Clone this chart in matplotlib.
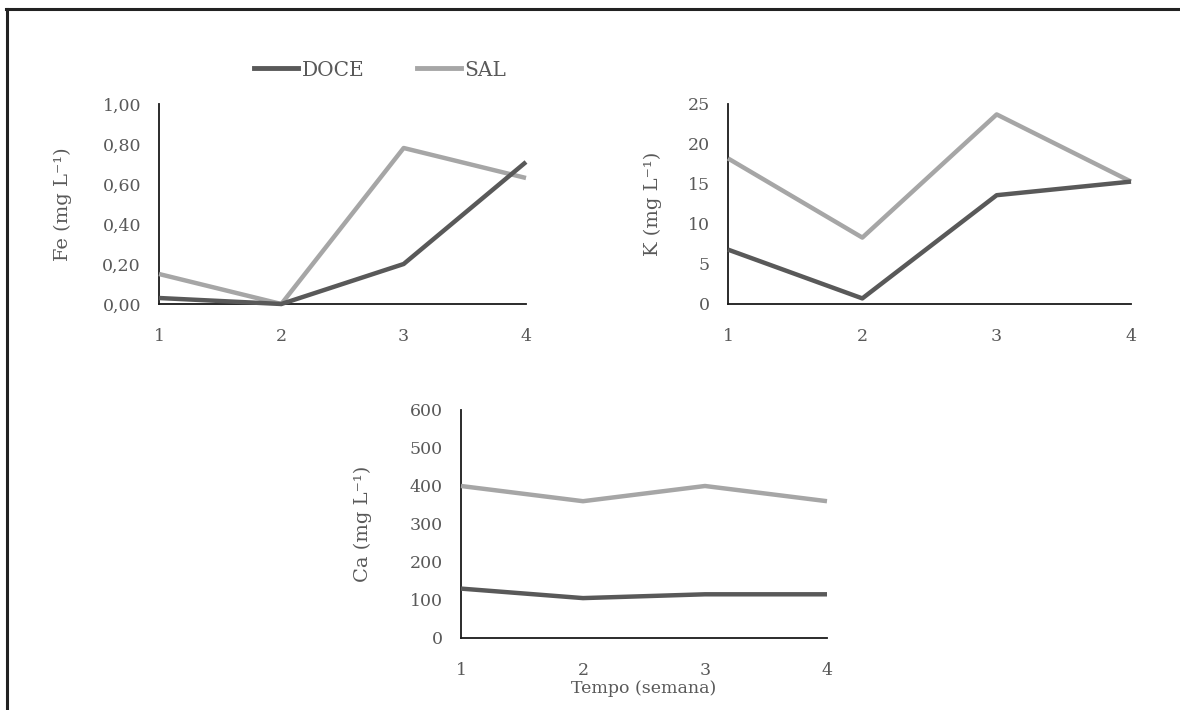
import matplotlib
matplotlib.use("Agg")
import matplotlib.pyplot as plt
from matplotlib.lines import Line2D
from matplotlib.ticker import FuncFormatter

plt.rcParams['font.family'] = ['DejaVu Serif']

weeks = [1, 2, 3, 4]
series_names = ["DOCE", "SAL"]

fe_doce = [0.03, 0.0, 0.20, 0.71]
fe_sal = [0.15, 0.0, 0.78, 0.63]
k_doce = [6.8, 0.7, 13.6, 15.3]
k_sal = [18.2, 8.3, 23.7, 15.3]
ca_doce = [130, 105, 115, 115]
ca_sal = [400, 360, 400, 360]

fe_ticks = [0.0, 0.2, 0.4, 0.6, 0.8, 1.0]
k_ticks = [0, 5, 10, 15, 20, 25]
ca_ticks = [0, 100, 200, 300, 400, 500, 600]

c_doce = "#595959"
c_sal = "#A6A6A6"
txt = "#595959"

W, H = 1180, 710
fig = plt.figure(figsize=(W / 100, H / 100), dpi=100)


def px_axes(l, r, t, b):
    return fig.add_axes([l / W, 1 - b / H, (r - l) / W, (b - t) / H])


def style(ax, ticks, ylabel, fmt=None):
    ax.set_xlim(1, 4)
    ax.set_ylim(ticks[0], ticks[-1])
    ax.set_xticks(weeks)
    ax.set_yticks(ticks)
    if fmt:
        ax.yaxis.set_major_formatter(FuncFormatter(fmt))
    for s in ["top", "right"]:
        ax.spines[s].set_visible(False)
    for s in ["left", "bottom"]:
        ax.spines[s].set_color("#1a1a1a")
        ax.spines[s].set_linewidth(1.3)
        ax.spines[s].set_zorder(1)
    ax.tick_params(length=0, labelsize=12.5, colors=txt)
    ax.tick_params(axis="x", pad=17)
    ax.tick_params(axis="y", pad=13)
    ax.set_ylabel(ylabel, fontsize=14, color=txt)
    ax.patch.set_alpha(0)


def draw(ax, d, s):
    ax.plot(weeks, d, color=c_doce, lw=3.2, solid_capstyle="butt", clip_on=False, zorder=3)
    ax.plot(weeks, s, color=c_sal, lw=3.2, solid_capstyle="butt", clip_on=False, zorder=2)


ax1 = px_axes(159, 526, 104, 304)
draw(ax1, fe_doce, fe_sal)
style(ax1, fe_ticks, "Fe (mg L\u207b\u00b9)", lambda v, p: f"{v:.2f}".replace(".", ","))
ax1.yaxis.set_label_coords(-0.238, 0.5)

ax2 = px_axes(728, 1131, 104, 304)
draw(ax2, k_doce, k_sal)
style(ax2, k_ticks, "K (mg L\u207b\u00b9)")
ax2.yaxis.set_label_coords(-0.165, 0.5)

ax3 = px_axes(461, 827, 410, 638)
draw(ax3, ca_doce, ca_sal)
style(ax3, ca_ticks, "Ca (mg L\u207b\u00b9)")
ax3.yaxis.set_label_coords(-0.243, 0.5)
ax3.set_xlabel("Tempo (semana)", fontsize=12.5, color=txt, labelpad=1)

# legend
handles = [Line2D([], [], color=c_doce, lw=3.5), Line2D([], [], color=c_sal, lw=3.5)]
fig.legend(handles, series_names, loc="center", bbox_to_anchor=(380 / W, 1 - 70 / H),
           ncol=2, frameon=False, fontsize=14.5, handlelength=2.2, handletextpad=0.15,
           columnspacing=2.6, labelcolor=txt)

# outer border (left and top)
fig.add_artist(Line2D([7 / W, 7 / W], [0, 1 - 9 / H], color="#222222", lw=2.2,
                      transform=fig.transFigure))
fig.add_artist(Line2D([6 / W, 1], [1 - 9 / H, 1 - 9 / H], color="#222222", lw=2.2,
                      transform=fig.transFigure))

fig.savefig("out.png", dpi=100)
